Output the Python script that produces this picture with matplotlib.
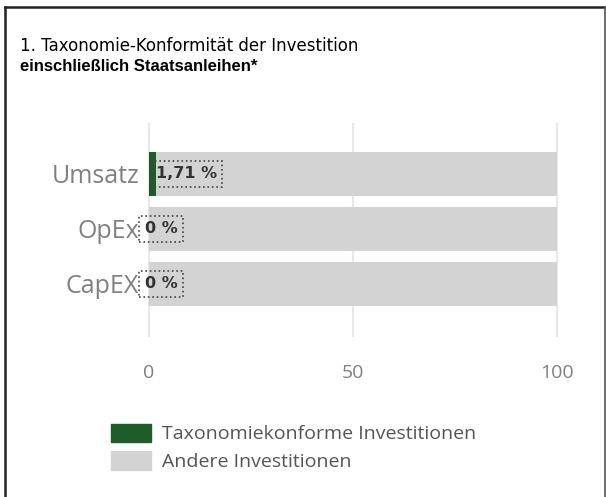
import matplotlib as mpl
mpl.use('Agg')
import matplotlib.pyplot as plt
import matplotlib.patches as mpatches

categories = ['Umsatz', 'OpEx', 'CapEX']
aligned = [1.71, 0, 0]
other = [98.29, 100, 100]
value_labels = ['1,71 %', '0 %', '0 %']
xticks = [0, 50, 100]
legend_labels = ['Taxonomiekonforme Investitionen', 'Andere Investitionen']

green = '#1e5c2a'
grey = '#d3d3d3'
label_grey = '#808080'

fig = plt.figure(figsize=(6.06, 4.97), dpi=100)

# outer frame (left, top, right only)
fig.add_artist(plt.Line2D([0.008, 0.008], [0, 0.986], color='#222222', lw=1.8))
fig.add_artist(plt.Line2D([0.008, 0.998], [0.986, 0.986], color='#222222', lw=1.8))
fig.add_artist(plt.Line2D([0.998, 0.998], [0, 0.986], color='#555555', lw=1.2))

fig.text(0.033, 0.908, '1. Taxonomie-Konformität der Investition', fontsize=12,
         family='DejaVu Sans', va='center')
fig.text(0.033, 0.866, 'einschließlich Staatsanleihen*', fontsize=12,
         family='Liberation Sans', weight='bold', va='center')

# 55 px per category
ax = fig.add_axes([0.246, 0.368, 0.673, 0.343])
y = list(range(len(categories)))
ax.barh(y, aligned, height=0.8, color=green, zorder=2)
ax.barh(y, other, left=aligned, height=0.8, color=grey, zorder=2)

for yi, a, lab in zip(y, aligned, value_labels):
    x0 = 1.6 if a > 0 else -1.1
    ax.text(x0, yi, lab, fontsize=11.5, weight='bold', color='#333333',
            family='DejaVu Sans', ha='left', va='center', zorder=3,
            bbox=dict(boxstyle='square,pad=0.35', fc='none', ec='#444444', ls=':', lw=1.2))

ax.set_xlim(0, 100)
ax.set_ylim(2.55, -0.55)
ax.set_yticks(y)
ax.set_yticklabels(categories, fontsize=18, color=label_grey, family='Open Sans')
ax.set_xticks(xticks)
ax.set_xticklabels([str(t) for t in xticks], fontsize=14, color=label_grey, family='Open Sans')
ax.tick_params(length=0, axis='y', pad=7)
ax.tick_params(length=0, axis='x', pad=36)
for t in xticks:
    ax.plot([t, t], [-0.9, 2.95], color='#e8e8e8', lw=1.5, zorder=1, clip_on=False)
for s in ax.spines.values():
    s.set_visible(False)

handles = [mpatches.Patch(color=green), mpatches.Patch(color=grey)]
leg = fig.legend(handles, legend_labels, loc='upper left', bbox_to_anchor=(0.155, 0.183),
                 frameon=False, handlelength=2.05, handleheight=1.1, handletextpad=0.55,
                 labelspacing=0.4, prop={'family': 'Open Sans', 'size': 14})
for t in leg.get_texts():
    t.set_color('#555555')

fig.savefig('out.png', dpi=100)
